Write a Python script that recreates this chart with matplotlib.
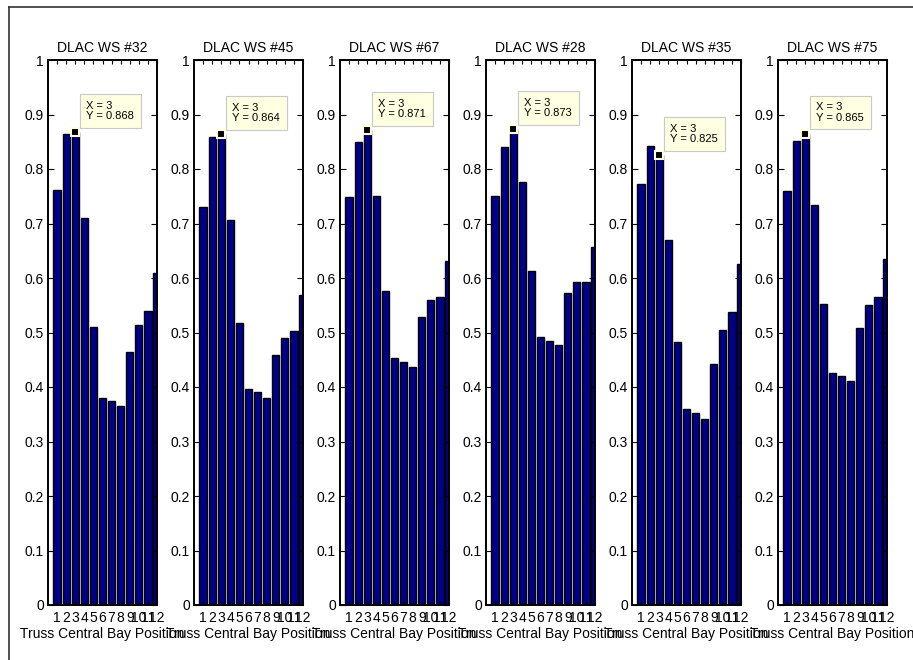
import matplotlib
matplotlib.use("Agg")
import matplotlib.pyplot as plt
from matplotlib.lines import Line2D
from matplotlib.ticker import FormatStrFormatter

plt.rcParams.update({
    "font.family": ["Liberation Sans", "DejaVu Sans"],
    "font.size": 10,
})

# ── data ──
positions = list(range(1, 13))
titles = ["DLAC WS #32", "DLAC WS #45", "DLAC WS #67",
          "DLAC WS #28", "DLAC WS #35", "DLAC WS #75"]

ws32 = [0.761, 0.865, 0.868, 0.711, 0.511, 0.380, 0.374, 0.366, 0.464, 0.514, 0.539, 0.609]
ws45 = [0.731, 0.858, 0.864, 0.706, 0.518, 0.397, 0.390, 0.380, 0.459, 0.489, 0.503, 0.568]
ws67 = [0.749, 0.849, 0.871, 0.750, 0.576, 0.453, 0.445, 0.437, 0.529, 0.559, 0.566, 0.632]
ws28 = [0.750, 0.841, 0.873, 0.776, 0.613, 0.491, 0.485, 0.477, 0.572, 0.593, 0.593, 0.657]
ws35 = [0.772, 0.843, 0.825, 0.670, 0.482, 0.359, 0.352, 0.342, 0.443, 0.505, 0.538, 0.625]
ws75 = [0.760, 0.852, 0.865, 0.734, 0.552, 0.426, 0.420, 0.411, 0.508, 0.550, 0.566, 0.635]
series = [ws32, ws45, ws67, ws28, ws35, ws75]

tip_x = 3   # datatip on bay 3

BAR_COLOR = "#000088"
TIP_FACE = "#FFFFE1"

fig = plt.figure(figsize=(9.13, 6.6), dpi=100)

# outer frame (left + top edges only, like the capture)
fig.add_artist(Line2D([9 / 913, 9 / 913], [0, 1 - 7 / 660], color="#333333", lw=1.2))
fig.add_artist(Line2D([9 / 913, 1], [1 - 7 / 660, 1 - 7 / 660], color="#333333", lw=1.2))

W, H = 913.0, 660.0
for i, (title, vals) in enumerate(zip(titles, series)):
    left = (48 + 146 * i) / W
    ax = fig.add_axes([left, 55 / H, 109 / W, 545 / H])
    ax.bar(positions, vals, width=0.8, color=BAR_COLOR, edgecolor="black", linewidth=1.0)
    ax.set_xlim(0, 12)
    ax.set_ylim(0, 1)
    ax.set_xticks(positions)
    ax.set_yticks([k / 10 for k in range(11)])
    ax.yaxis.set_major_formatter(FormatStrFormatter("%g"))
    ax.tick_params(direction="in", top=True, right=True, length=4, width=0.8, pad=3)
    ax.tick_params(axis="x", length=3, pad=4)
    for sp in ax.spines.values():
        sp.set_linewidth(1.4)
    ax.set_title(title, fontsize=10, pad=6)
    ax.set_xlabel("Truss Central Bay Position", fontsize=10, labelpad=2)

    # datatip
    y_tip = vals[tip_x - 1]
    ax.plot(tip_x, y_tip, "s", ms=6, mfc="black", mec=TIP_FACE, mew=1.5,
            clip_on=False, zorder=5)
    ax.annotate(f"X = {tip_x}\nY = {y_tip:.3f}", xy=(tip_x, y_tip),
                xytext=(11, 11), textcoords="offset pixels",
                ha="left", va="bottom", fontsize=8, linespacing=1.05,
                bbox=dict(boxstyle="square,pad=0.6", facecolor=TIP_FACE,
                          edgecolor="#C8C8C8", linewidth=0.8),
                annotation_clip=False, zorder=6)

fig.savefig("out.png", dpi=100)
